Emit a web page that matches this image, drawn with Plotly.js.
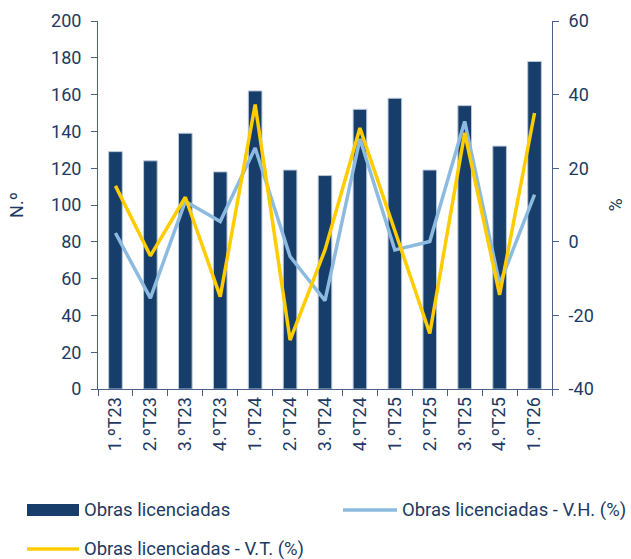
<!DOCTYPE html>
<html>
<head>
<meta charset="utf-8">
<script src="https://cdn.plot.ly/plotly-3.0.1.min.js"></script>
<style>html,body{margin:0;padding:0;background:#fff;}#chart{width:631px;height:559px;}</style>
</head>
<body>
<div id="chart"></div>
<script>
const categories = ["1.ºT23","2.ºT23","3.ºT23","4.ºT23","1.ºT24","2.ºT24","3.ºT24","4.ºT24","1.ºT25","2.ºT25","3.ºT25","4.ºT25","1.ºT26"];
const obras = [129,124,139,118,162,119,116,152,158,119,154,132,178];
const vh = [2.4,-15.3,11.0,5.5,25.5,-4.0,-16.0,28.0,-2.2,0.1,32.7,-11.5,12.8];
const vt = [15.2,-3.8,12.1,-14.9,37.3,-26.7,-2.2,30.9,3.0,-24.9,29.6,-14.4,35.0];
const names = ["Obras licenciadas","Obras licenciadas - V.H. (%)","Obras licenciadas - V.T. (%)"];
const pctTickVals = [-40,-20,0,20,40,60];
const pctTickText = ["-40","-20","0","20","40","60"];

const navy = "#173d6a", light = "#8dbbdf", yellow = "#ffcc00";
const txt = "#1e3a62", axc = "#4a6288";
const font = "Roboto, 'Liberation Sans', sans-serif";

const data = [
  {type:"bar", x:categories, y:obras, name:names[0], marker:{color:navy, line:{color:"#b9c8da", width:1}}, width:0.39, showlegend:false},
  {type:"scatter", mode:"lines", x:categories, y:vh, name:names[1], yaxis:"y2", line:{color:light, width:3.5}, showlegend:false},
  {type:"scatter", mode:"lines", x:categories, y:vt, name:names[2], yaxis:"y2", line:{color:yellow, width:3.5}, showlegend:false}
];

const px = v => (v-98)/454, py = v => (389-v)/368;

const layout = {
  width:631, height:559,
  margin:{l:98, r:79, t:21, b:170},
  paper_bgcolor:"#fff", plot_bgcolor:"#fff",
  font:{family:font, color:txt, size:18},
  showlegend:false,
  bargap:0.6,
  xaxis:{type:"category", showline:true, linecolor:axc, linewidth:1, ticks:"outside", tickson:"boundaries", ticklen:6, tickcolor:axc,
         tickangle:-90, tickfont:{size:18, color:txt}, showgrid:false, zeroline:false},
  yaxis:{range:[0,200], dtick:20, showline:true, linecolor:axc, linewidth:1, ticks:"outside", ticklen:6, tickcolor:axc,
         tickfont:{size:18, color:txt}, showgrid:false, zeroline:false, ticklabelstandoff:6,
         title:{text:"N.º", font:{size:18, color:txt}, standoff:22}},
  yaxis2:{range:[-40,60], tickmode:"array", tickvals:pctTickVals, ticktext:pctTickText, overlaying:"y", side:"right", showline:true, linecolor:axc, linewidth:1, ticks:"outside", ticklen:6, tickcolor:axc,
          tickfont:{size:18, color:txt}, showgrid:false, zeroline:false, ticklabelstandoff:6,
          title:{text:"%", font:{size:18, color:txt}, standoff:16}},
  shapes:[
    {type:"rect", xref:"paper", yref:"paper", x0:px(27), x1:px(79), y0:py(516), y1:py(504), fillcolor:navy, line:{width:0}},
    {type:"line", xref:"paper", yref:"paper", x0:px(343), x1:px(397), y0:py(510), y1:py(510), line:{color:light, width:3.5}},
    {type:"line", xref:"paper", yref:"paper", x0:px(27), x1:px(79), y0:py(549), y1:py(549), line:{color:yellow, width:3.5}}
  ],
  annotations:[
    {text:names[0], xref:"paper", yref:"paper", x:px(82), y:py(510), xanchor:"left", yanchor:"middle", showarrow:false, font:{size:18.5, color:txt}},
    {text:names[1], xref:"paper", yref:"paper", x:px(400), y:py(510), xanchor:"left", yanchor:"middle", showarrow:false, font:{size:18.5, color:txt}},
    {text:names[2], xref:"paper", yref:"paper", x:px(82), y:py(549), xanchor:"left", yanchor:"middle", showarrow:false, font:{size:18.5, color:txt}}
  ]
};

Plotly.newPlot("chart", data, layout, {displayModeBar:false, staticPlot:true});
</script>
</body>
</html>
